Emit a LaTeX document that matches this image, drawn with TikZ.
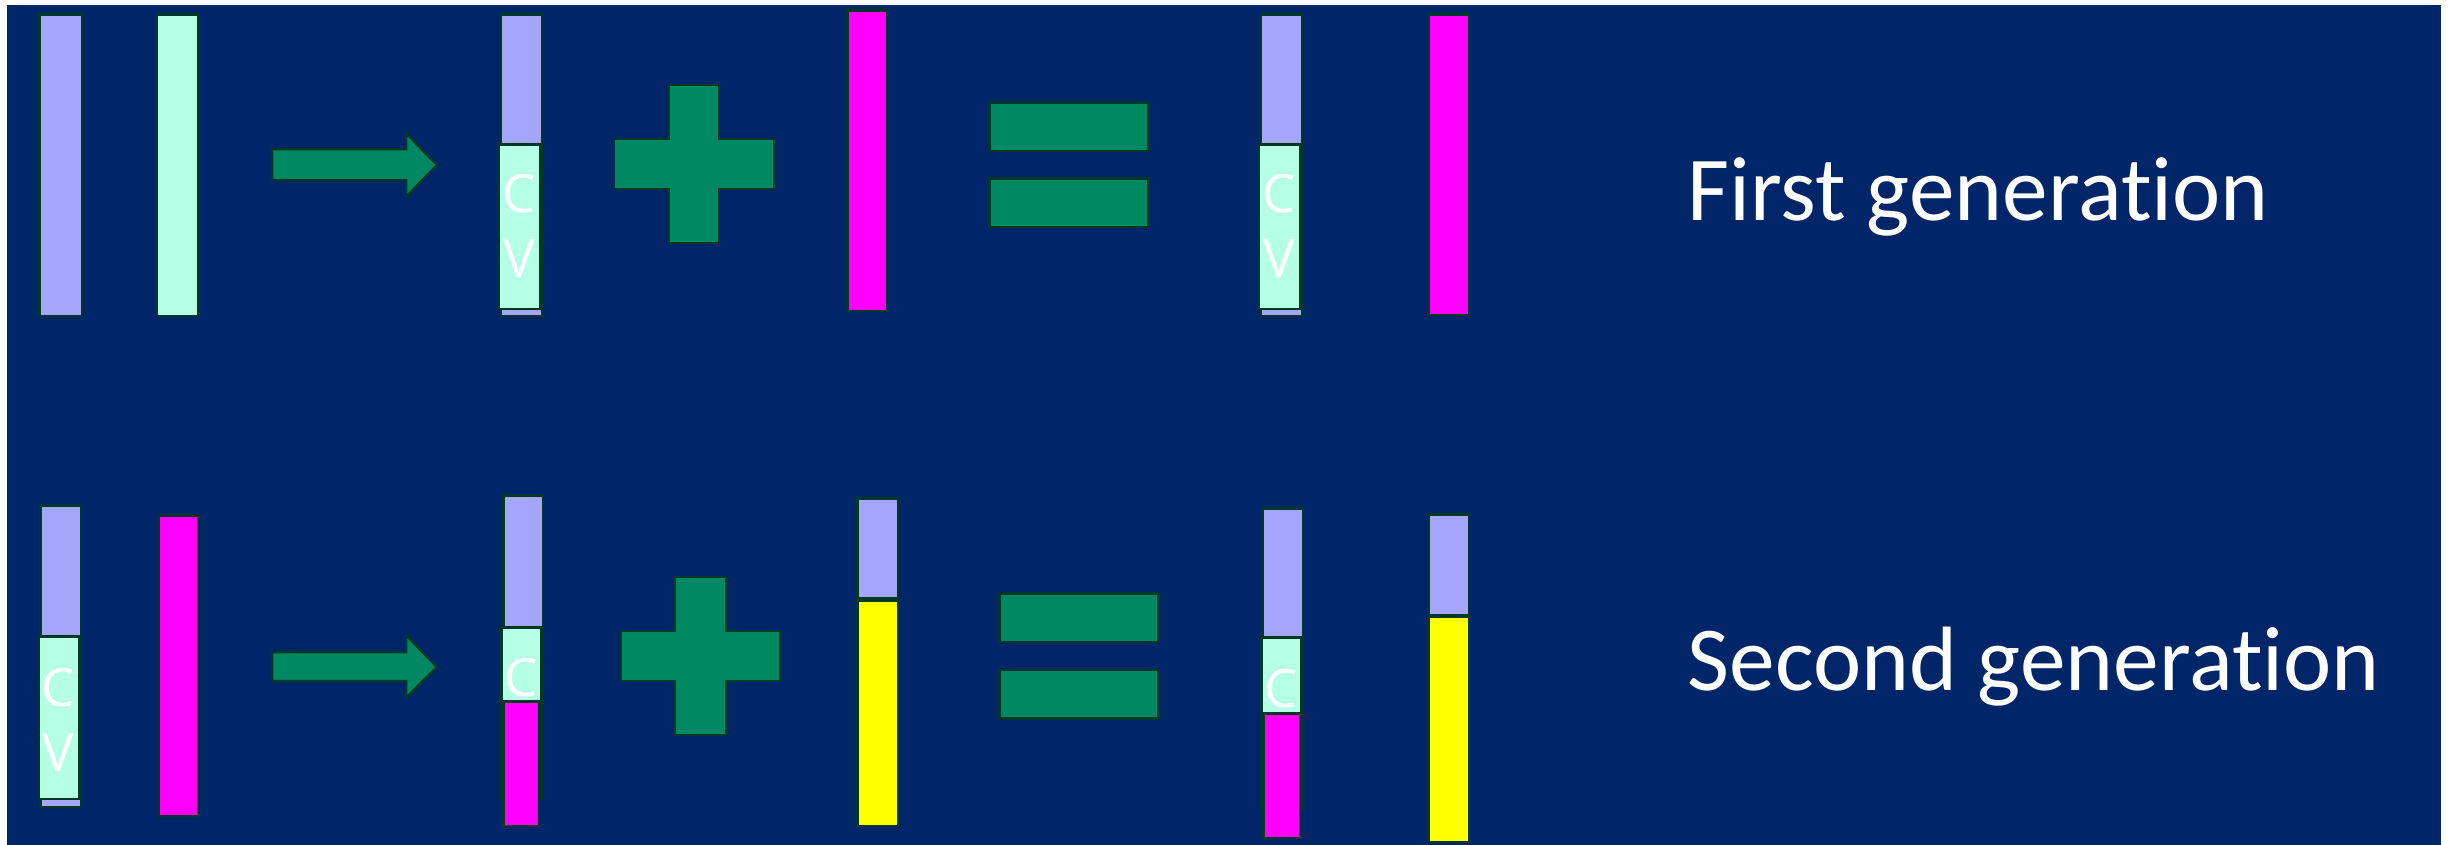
\documentclass[tikz,border=0pt]{standalone}
\usepackage{fontspec}
\newfontfamily\slidefont[Ligatures=NoCommon]{Carlito}
\newfontfamily\barfont{Open Sans}
\definecolor{navy}{RGB}{0,37,104}
\definecolor{lav}{RGB}{165,165,250}
\definecolor{mint}{RGB}{180,255,230}
\definecolor{mag}{RGB}{255,0,255}
\definecolor{yel}{RGB}{255,255,0}
\definecolor{signgreen}{RGB}{0,136,98}
\definecolor{edge}{RGB}{0,56,40}
\begin{document}
\begin{tikzpicture}[x=0.1mm,y=-0.1mm,
  bar/.style={draw=edge, line width=0.25mm, inner sep=0pt, outer sep=0pt},
  sign/.style={draw=edge, fill=signgreen, line width=0.25mm},
  letter/.style={text=white, font=\barfont\fontsize{15pt}{18pt}\selectfont, inner sep=0pt, anchor=base},
  gentitle/.style={text=white, font=\slidefont\fontsize{26pt}{31pt}\selectfont, inner sep=0pt, anchor=base west}]
\useasboundingbox[fill=white] (0,0) rectangle (2453,845);
\fill[navy] (7,5) rectangle (2441,845);

\node[bar, fill=lav, minimum width=4.25mm, minimum height=30.15mm] (a1) at (60.5,165) {};
\node[bar, fill=mint, minimum width=4.15mm, minimum height=30.15mm] (b1) at (177,165) {};
\draw[sign] (272,149) -- (406,149) -- (406,133) -- (437,165) -- (406,197) -- (406,180) -- (272,180) -- cycle;
\node[bar, fill=lav, minimum width=4.15mm, minimum height=30.15mm] (c1) at (521,165) {};
\node[bar, fill=mint, minimum width=4.15mm, minimum height=16.45mm] (cv1) at (519,226.5) {};
\node[letter] (c1c) at (519,212) {C};
\node[letter] (c1v) at (519,277) {V};
\draw[sign] (669,85) -- (719,85) -- (719,139) -- (774,139) -- (774,189) -- (719,189) -- (719,243) -- (669,243) -- (669,189) -- (614,189) -- (614,139) -- (669,139) -- cycle;
\node[bar, fill=mag, minimum width=3.95mm, minimum height=30.05mm] (m1) at (867,160.5) {};
\node[bar, fill=signgreen, minimum width=15.85mm, minimum height=4.85mm] (eq1a) at (1068.5,126.5) {};
\node[bar, fill=signgreen, minimum width=15.85mm, minimum height=4.85mm] (eq1b) at (1068.5,202.5) {};
\node[bar, fill=lav, minimum width=4.15mm, minimum height=30.15mm] (d1) at (1281,165) {};
\node[bar, fill=mint, minimum width=4.15mm, minimum height=16.45mm] (dv1) at (1279,226.5) {};
\node[letter] (d1c) at (1279,212) {C};
\node[letter] (d1v) at (1279,277) {V};
\node[bar, fill=mag, minimum width=4.05mm, minimum height=30.05mm] (m2) at (1448.5,164.5) {};
\node[gentitle] (gen1) at (1687,220) {First generation};

\node[bar, fill=lav, minimum width=4.05mm, minimum height=30.15mm] (a2) at (60.5,656) {};
\node[bar, fill=mint, minimum width=4.05mm, minimum height=16.25mm] (av2) at (58.5,717.5) {};
\node[letter] (a2c) at (58,706) {C};
\node[letter] (a2v) at (58,771) {V};
\node[bar, fill=mag, minimum width=3.95mm, minimum height=30.05mm] (m3) at (178,665.5) {};
\draw[sign] (272,652) -- (406,652) -- (406,635) -- (437,667) -- (406,698) -- (406,681) -- (272,681) -- cycle;
\node[bar, fill=lav, minimum width=3.95mm, minimum height=30.35mm] (c2) at (523,647) {};
\node[bar, fill=mint, minimum width=3.95mm, minimum height=17.15mm] (cv2) at (521,713) {};
\node[bar, fill=mag, minimum width=3.55mm, minimum height=12.45mm] (cm2) at (521,763.5) {};
\node[letter] (c2c) at (521,696) {C};
\draw[sign] (675,577) -- (726,577) -- (726,631) -- (780,631) -- (780,681) -- (726,681) -- (726,735) -- (675,735) -- (675,681) -- (621,681) -- (621,631) -- (675,631) -- cycle;
\node[bar, fill=lav, minimum width=4.05mm, minimum height=9.95mm] (y1a) at (877.5,548) {};
\node[bar, fill=yel, minimum width=4.05mm, minimum height=22.55mm] (y1b) at (877.5,713) {};
\node[bar, fill=signgreen, minimum width=15.85mm, minimum height=4.85mm] (eq2a) at (1078.5,617.5) {};
\node[bar, fill=signgreen, minimum width=15.85mm, minimum height=4.85mm] (eq2b) at (1078.5,694) {};
\node[bar, fill=lav, minimum width=4.05mm, minimum height=30.05mm] (d2) at (1282.5,658.5) {};
\node[bar, fill=mint, minimum width=3.95mm, minimum height=17.15mm] (dv2) at (1281,723) {};
\node[bar, fill=mag, minimum width=3.65mm, minimum height=12.45mm] (dm2) at (1281.5,775.5) {};
\node[letter] (d2c) at (1281,707) {C};
\node[bar, fill=lav, minimum width=4.05mm, minimum height=10.05mm] (y2a) at (1448.5,564.5) {};
\node[bar, fill=yel, minimum width=4.05mm, minimum height=22.55mm] (y2b) at (1448.5,729) {};
\node[gentitle] (gen2) at (1687,690) {Second generation};
\end{tikzpicture}
\end{document}
